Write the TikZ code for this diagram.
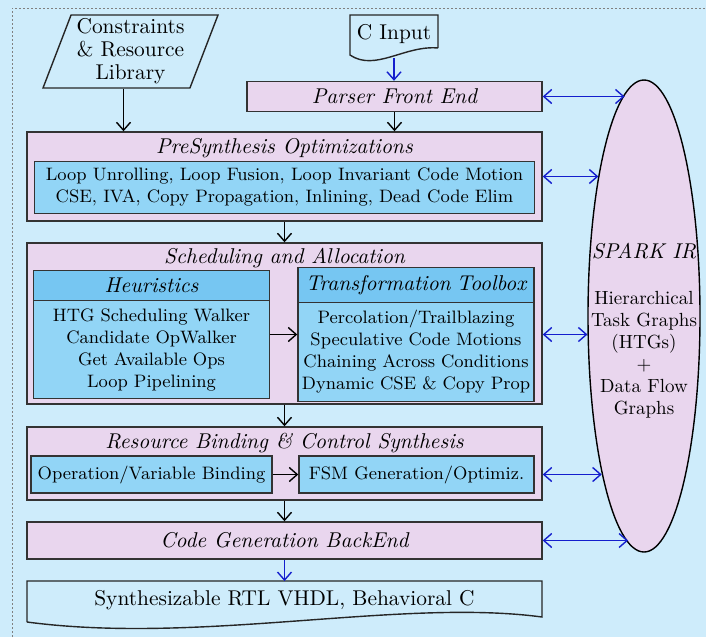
\documentclass[tikz,border=0pt]{standalone}
\usepackage{tikz}
\usetikzlibrary{arrows.meta,shapes.geometric,shapes.multipart}
\definecolor{bgblue}{RGB}{206,236,251}
\definecolor{boxpink}{RGB}{233,214,238}
\definecolor{boxblue}{RGB}{146,213,246}
\definecolor{headblue}{RGB}{118,198,242}
\definecolor{linkblue}{RGB}{20,30,205}
\def\ttlfont{\fontsize{10.7}{12}\selectfont\itshape}
\def\txtfont{\fontsize{9}{11}\selectfont}
\def\bigfont{\fontsize{10.7}{11.5}\selectfont}
\def\irfont{\fontsize{9.5}{11}\selectfont}
\tikzset{
	stage/.style={draw=black!80, fill=boxpink, line width=0.7pt, minimum width=257.5pt},
	unit/.style={draw=black!80, fill=boxblue, line width=0.7pt, font=\txtfont, align=center},
	toolbox/.style={rectangle split, rectangle split parts=2, draw=black!80, line width=0.7pt, rectangle split part fill={headblue,boxblue}, text width=117pt, inner xsep=0.5pt, inner ysep=3.5pt, align=center, font=\txtfont},
	ttl/.style={font=\ttlfont},
	flow/.style={-{Straight Barb[length=4pt,width=7pt]}, line width=0.7pt},
	ioflow/.style={flow, draw=linkblue},
	irlink/.style={{Straight Barb[length=4pt,width=7pt]}-{Straight Barb[length=4pt,width=7pt]}, line width=0.7pt, draw=linkblue},
}

\begin{document}
\begin{tikzpicture}[x=0.5pt,y=-0.5pt]
		%%%%% START %%%%%
		\useasboundingbox (0,0) rectangle (706,637);
		\fill[bgblue] (0,0) rectangle (706,637);
		\draw[black!50, dash pattern=on 1pt off 1pt] (12,637) -- (12,8) -- (706,8);
		
		\node[trapezium, trapezium left angle=68, trapezium right angle=112, trapezium stretches body, draw=black!85, line width=0.7pt, minimum width=87.5pt, minimum height=36.5pt, inner sep=1pt, align=center, font=\bigfont] (cons) at (130.5,51.5) {Constraints\\ \& Resource\\ Library};
		
		\draw[black!85, line width=0.7pt] (438,48) -- (438,15) -- (350,15) -- (350,55) .. controls (375,72) and (405,45) .. (438,48);
		\node[font=\bigfont, minimum width=44pt, minimum height=21.5pt, text depth=5pt] (cin) at (394,36.5) {C Input};
		
		\node[stage, minimum width=147.5pt, minimum height=15pt, font=\ttlfont] (parser) at (394.5,96.5) {Parser Front End};
		
		\node[stage, minimum height=44.5pt] (pre) at (284.5,176.5) {};
		\node[ttl] (pretitle) at (284.5,148) {PreSynthesis Optimizations};
		\node[unit, minimum width=250pt, minimum height=25.5pt] (preopt) at (284.5,187.5) {Loop Unrolling, Loop Fusion, Loop Invariant Code Motion\\ CSE, IVA, Copy Propagation, Inlining, Dead Code Elim};
		
		\node[stage, minimum height=80.5pt] (sched) at (284.5,323.5) {};
		\node[ttl] (schedtitle) at (284.5,258) {Scheduling and Allocation};
		\node[toolbox] (heur) at (151.5,334.5) {\ttlfont Heuristics \nodepart{two} HTG Scheduling Walker\\ Candidate OpWalker\\ Get Available Ops\\ Loop Pipelining};
		\node[toolbox] (tool) at (416,334.5) {\ttlfont Transformation Toolbox \nodepart{two} Percolation/Trailblazing\\ Speculative Code Motions\\ Chaining Across Conditions\\ Dynamic CSE \& Copy Prop};
		
		\node[stage, minimum height=36.5pt] (res) at (284.5,463.5) {};
		\node[ttl] (restitle) at (284.5,443) {Resource Binding \& Control Synthesis};
		\node[unit, minimum width=117.5pt, minimum height=18.5pt] (bind) at (151.5,474.5) {Operation/Variable Binding};
		\node[unit, minimum width=117.5pt, minimum height=18.5pt] (fsm) at (416.5,474.5) {FSM Generation/Optimiz.};
		
		\node[stage, minimum height=18.5pt, font=\ttlfont] (codegen) at (284.5,540.5) {Code Generation BackEnd};
		
		\draw[black!85, line width=0.7pt] (27,622) -- (27,581) -- (542,581) -- (542,617) .. controls (400,598) and (200,645) .. (27,622);
		\node[font=\bigfont, minimum width=257.5pt, minimum height=19pt] (out) at (284.5,600.5) {Synthesizable RTL VHDL, Behavioral C};
		
		\node[ellipse, draw=black, fill=boxpink, line width=0.7pt, minimum width=56pt, minimum height=236pt, inner sep=0pt] (ir) at (644,316) {};
		\node[align=center, font=\irfont] (irtext) at (644,331) {{\ttlfont SPARK IR}\\[12pt] Hierarchical\\ Task Graphs\\ (HTGs)\\ +\\ Data Flow\\ Graphs};
		
		\draw[flow] ([xshift=-3.5pt]cons.south) -- ([xshift=-3.5pt]cons.south |- pre.north);
		\draw[ioflow] (cin.south) -- (cin.south |- parser.north);
		\draw[flow] (parser.south) -- (parser.south |- pre.north);
		\draw[flow] (pre.south) -- (sched.north);
		\draw[flow] (heur.east) -- (heur.east -| tool.west);
		\draw[flow] (sched.south) -- (res.north);
		\draw[flow] (bind.east) -- (fsm.west);
		\draw[flow] (res.south) -- (codegen.north);
		\draw[ioflow] (codegen.south) -- (out.north);
		
		\draw[irlink] (parser.east) -- (parser.east -| ir.95);
		\draw[irlink] (pre.east) -- (pre.east -| ir.108);
		\draw[irlink] (tool.east -| sched.east) -- (tool.east -| ir.198);
		\draw[irlink] (fsm.east -| res.east) -- (fsm.east -| ir.255);
		\draw[irlink] (codegen.east) -- (codegen.east -| ir.266);
		
		%%%%% END %%%%%
	\end{tikzpicture}
\end{document}
